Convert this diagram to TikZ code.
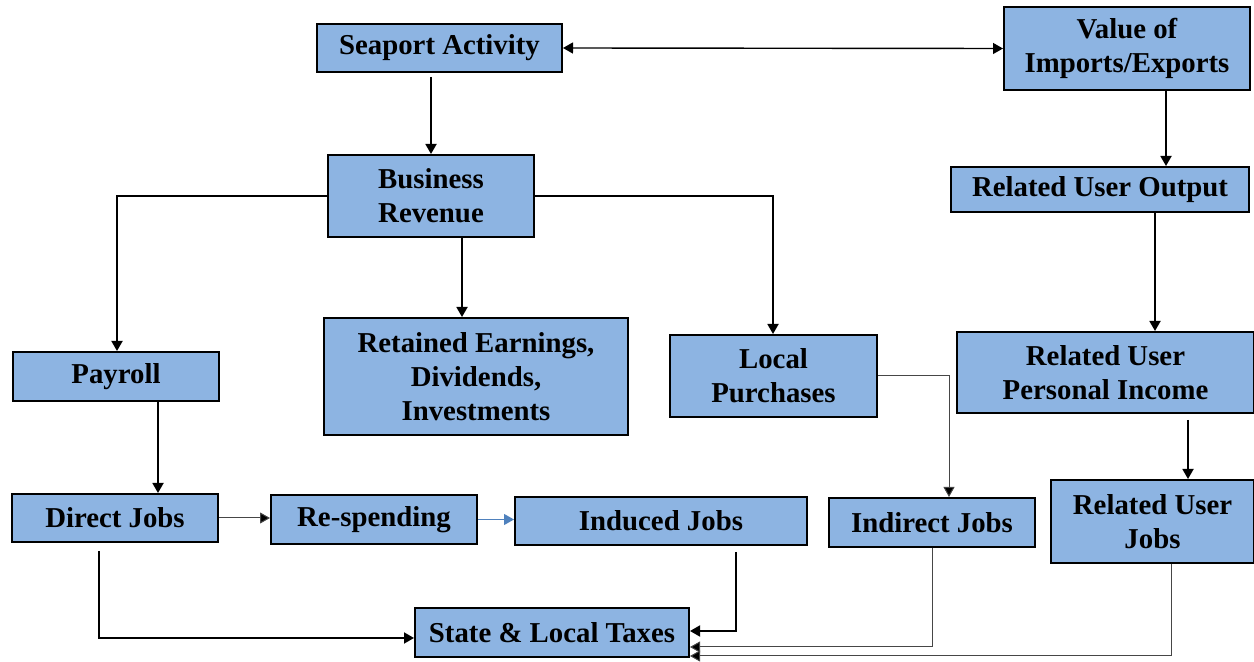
\documentclass[tikz,border=0pt]{standalone}
\usepackage{fontspec}
\setmainfont{Liberation Serif}
\usetikzlibrary{arrows.meta}
\definecolor{boxblue}{RGB}{141,180,226}
\definecolor{thinline}{RGB}{70,70,70}
\definecolor{blueline}{RGB}{79,129,189}
\tikzset{
  box/.style={draw=black, line width=1pt, fill=boxblue, align=center, inner sep=0pt,
    font=\bfseries\fontsize{14.4}{17}\selectfont},
  arr/.style={line width=0.9pt, -{Triangle[length=5pt,width=5.5pt]}},
  thinarr/.style={line width=0.5pt, draw=thinline, -{Triangle[length=5pt,width=5.5pt,fill=black]}},
}
\begin{document}
\begin{tikzpicture}[x=0.5pt,y=-0.5pt]
\useasboundingbox (0,0) rectangle (1254,662);

\node[box, minimum width=122.5pt, minimum height=24pt] (sea) at (439.5,48) {Seaport Activity};
\node[box, minimum width=123pt, minimum height=41.5pt] (val) at (1127,48.5) {Value of\\Imports/Exports};
\node[box, minimum width=103pt, minimum height=41pt] (rev) at (431,196) {Business\\Revenue};
\node[box, minimum width=149pt, minimum height=22.5pt] (ruo) at (1100,189.5) {Related User Output};
\node[box, minimum width=103pt, minimum height=24.5pt] (pay) at (116,376.5) {Payroll};
\node[box, minimum width=152pt, minimum height=58.5pt] (ret) at (476,376.5) {Retained Earnings,\\Dividends,\\Investments};
\node[box, minimum width=103.5pt, minimum height=41pt] (loc) at (773.5,376) {Local\\Purchases};
\node[box, minimum width=148.5pt, minimum height=40.5pt] (rupi) at (1105.5,372.5) {Related User\\Personal Income};
\node[box, minimum width=103pt, minimum height=24pt] (dir) at (115,518) {Direct Jobs};
\node[box, minimum width=103pt, minimum height=24.5pt] (resp) at (374,519.5) {Re-spending};
\node[box, minimum width=146pt, minimum height=24pt] (ind) at (661,521) {Induced Jobs};
\node[box, minimum width=103pt, minimum height=24.5pt] (indir) at (932,522.5) {Indirect Jobs};
\node[box, minimum width=101.5pt, minimum height=41.5pt] (ruj) at (1152.5,521.5) {Related User\\Jobs};
\node[box, minimum width=137pt, minimum height=24.5pt] (tax) at (552,632.5) {State \& Local Taxes};

% top row
\draw[line width=0.7pt, {Triangle[length=5pt,width=5.5pt]}-{Triangle[length=5pt,width=5.5pt]}] (sea.east) -- (val.west);
\draw[arr, shorten <=2pt] (rev.north |- sea.south) -- (rev.north);
\draw[arr] ([xshift=19.5pt]val.south) -- ([xshift=19.5pt]val.south |- ruo.north);
\draw[arr] ([xshift=27.5pt]ruo.south) -- ([xshift=27.5pt]ruo.south |- rupi.north);
\draw[arr, shorten <=3pt] ([xshift=41.25pt]rupi.south) -- ([xshift=41.25pt]rupi.south |- ruj.north);

% business revenue branches
\draw[arr] (rev.west) -| ([xshift=0.5pt]pay.north);
\draw[arr] ([xshift=15.5pt]rev.south) -- ([xshift=15.5pt]rev.south |- ret.north);
\draw[arr] (rev.east) -| ([xshift=-0.25pt]loc.north);
\draw[thinarr] (loc.east) -| ([xshift=8.5pt]indir.north);

% jobs
\draw[arr] ([xshift=21pt]pay.south) -- ([xshift=21pt]pay.south |- dir.north);
\draw[thinarr] (dir.east) -- (dir.east -| resp.west);
\draw[line width=0.5pt, draw=blueline, -{Triangle[length=5pt,width=5.5pt,fill=blueline]}] (resp.east) -- (resp.east -| ind.west);

% taxes
\draw[arr, shorten <=4pt] ([xshift=-8pt]dir.south) |- ([yshift=-2.75pt]tax.west);
\draw[arr, shorten <=3pt] ([xshift=37.5pt]ind.south) |- ([yshift=0.75pt]tax.east);
\draw[thinarr] (indir.south) |- ([yshift=-7.25pt]tax.east);
\draw[thinarr] ([xshift=9.25pt]ruj.south) |- ([yshift=-11.75pt]tax.east);
\end{tikzpicture}
\end{document}
